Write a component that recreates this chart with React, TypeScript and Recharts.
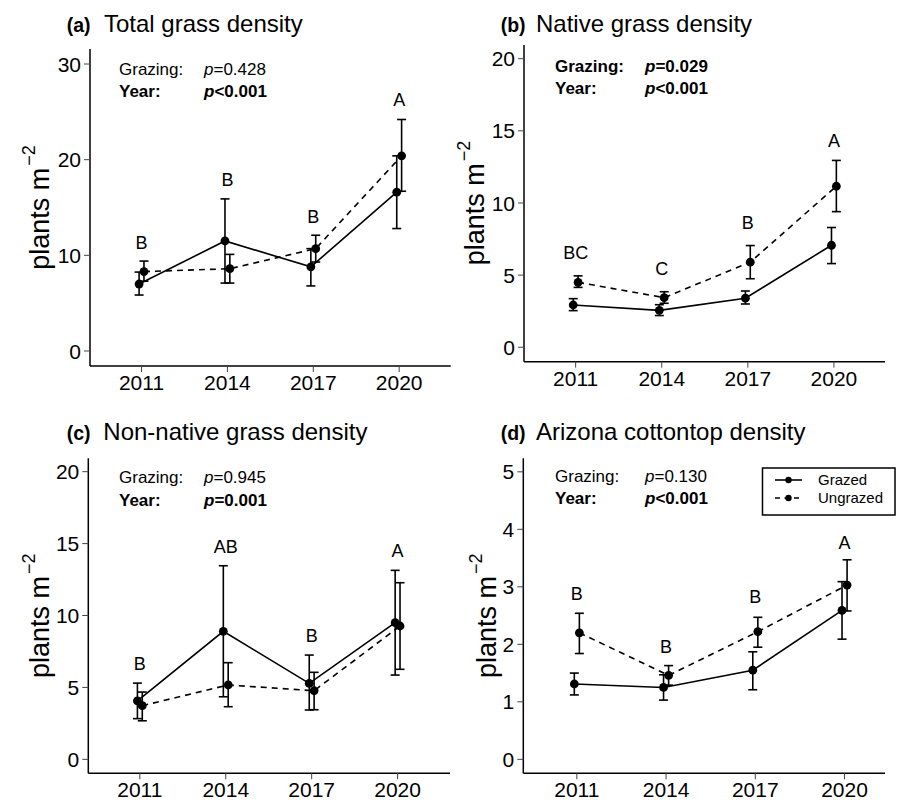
import React from 'react';
import { ComposedChart, Scatter, XAxis, YAxis, ErrorBar } from 'recharts';

const FONT = '"Liberation Sans", Arial, Helvetica, sans-serif';

// ---------- shared categories ----------
const years = [2011, 2014, 2017, 2020];
const xTicks = [2011, 2014, 2017, 2020];

// ---------- (a) Total grass density ----------
const totalGrazedMean = [7.0, 11.5, 8.8, 16.6];
const totalGrazedLow = [5.85, 7.1, 6.8, 12.8];
const totalGrazedHigh = [8.25, 15.9, 10.7, 20.4];
const totalUngrazedMean = [8.3, 8.6, 10.7, 20.4];
const totalUngrazedLow = [7.3, 7.1, 9.3, 16.7];
const totalUngrazedHigh = [9.4, 10.1, 12.1, 24.2];
const totalLetters = ['B', 'B', 'B', 'A'];
const totalLetterY = [10.65, 17.25, 13.4, 25.6];
const totalYTicks = [0, 10, 20, 30];

// ---------- (b) Native grass density ----------
const nativeGrazedMean = [2.93, 2.56, 3.4, 7.07];
const nativeGrazedLow = [2.54, 2.2, 3.0, 5.8];
const nativeGrazedHigh = [3.37, 2.95, 3.9, 8.3];
const nativeUngrazedMean = [4.5, 3.44, 5.9, 11.16];
const nativeUngrazedLow = [4.15, 3.05, 4.75, 9.4];
const nativeUngrazedHigh = [4.95, 3.85, 7.05, 12.95];
const nativeLetters = ['BC', 'C', 'B', 'A'];
const nativeLetterY = [6.1, 5.03, 8.18, 13.9];
const nativeYTicks = [0, 5, 10, 15, 20];

// ---------- (c) Non-native grass density ----------
const nonNativeGrazedMean = [4.07, 8.9, 5.28, 9.5];
const nonNativeGrazedLow = [2.83, 4.35, 3.43, 5.86];
const nonNativeGrazedHigh = [5.3, 13.46, 7.25, 13.14];
const nonNativeUngrazedMean = [3.73, 5.17, 4.77, 9.27];
const nonNativeUngrazedLow = [2.68, 3.66, 3.45, 6.26];
const nonNativeUngrazedHigh = [4.68, 6.72, 6.05, 12.28];
const nonNativeLetters = ['B', 'AB', 'B', 'A'];
const nonNativeLetterY = [6.2, 14.37, 8.16, 14.07];
const nonNativeYTicks = [0, 5, 10, 15, 20];

// ---------- (d) Arizona cottontop density ----------
const cottonGrazedMean = [1.31, 1.25, 1.55, 2.59];
const cottonGrazedLow = [1.12, 1.03, 1.21, 2.09];
const cottonGrazedHigh = [1.5, 1.47, 1.87, 3.09];
const cottonUngrazedMean = [2.2, 1.46, 2.22, 3.03];
const cottonUngrazedLow = [1.84, 1.29, 1.95, 2.58];
const cottonUngrazedHigh = [2.54, 1.63, 2.47, 3.47];
const cottonLetters = ['B', 'B', 'B', 'A'];
const cottonLetterY = [2.77, 1.85, 2.72, 3.65];
const cottonYTicks = [0, 1, 2, 3, 4, 5];

const DODGE = 0.085;

type Pt = { x: number; y: number; err: number[] };

function buildSeries(mean: number[], low: number[], high: number[], dodge: number): Pt[] {
  return years.map((yr, i) => ({
    x: yr + dodge,
    y: mean[i],
    err: [mean[i] - low[i], high[i] - mean[i]],
  }));
}

function buildLetters(letters: string[], ys: number[]) {
  return years.map((yr, i) => ({ x: yr, y: ys[i], t: letters[i] }));
}

const Dot = (props: any) => {
  const { cx, cy } = props;
  if (cx == null || cy == null) return null;
  return <circle cx={cx} cy={cy} r={4.4} fill="#000" />;
};

const LetterShape = (props: any) => {
  const { cx, cy, payload } = props;
  if (cx == null || cy == null) return null;
  return (
    <text x={cx} y={cy} textAnchor="middle" fontSize={18} fontFamily={FONT} fill="#000">
      {payload.t}
    </text>
  );
};

const XTick = (props: any) => {
  const { x, y, payload } = props;
  return (
    <text x={x} y={y} dy="0.71em" textAnchor="middle" fontSize={21} fontFamily={FONT} fill="#000">
      {payload.value}
    </text>
  );
};

const YTick = (props: any) => {
  const { x, y, payload } = props;
  return (
    <text x={x} y={y} dy="0.36em" textAnchor="end" fontSize={21} fontFamily={FONT} fill="#000">
      {payload.value}
    </text>
  );
};

type PanelProps = {
  left: number;
  top: number;
  width: number;
  height: number;
  margin: { top: number; right: number; bottom: number; left: number };
  yAxisWidth: number;
  xDomain: [number, number];
  yDomain: [number, number];
  yTicks: number[];
  grazed: Pt[];
  ungrazed: Pt[];
  letters: { x: number; y: number; t: string }[];
};

function Panel(p: PanelProps) {
  return (
    <div style={{ position: 'absolute', left: p.left, top: p.top, width: p.width, height: p.height }}>
      <ComposedChart width={p.width} height={p.height} margin={p.margin}>
        <XAxis
          type="number"
          dataKey="x"
          domain={p.xDomain}
          ticks={xTicks}
          interval={0}
          allowDataOverflow
          height={25}
          tickSize={6}
          tickMargin={3}
          axisLine={{ stroke: '#000', strokeWidth: 1.5 }}
          tickLine={{ stroke: '#444', strokeWidth: 1 }}
          tick={<XTick />}
        />
        <YAxis
          type="number"
          dataKey="y"
          domain={p.yDomain}
          ticks={p.yTicks}
          interval={0}
          allowDataOverflow
          width={p.yAxisWidth}
          tickSize={6}
          tickMargin={3}
          axisLine={{ stroke: '#000', strokeWidth: 1.5 }}
          tickLine={{ stroke: '#444', strokeWidth: 1 }}
          tick={<YTick />}
        />
        <Scatter
          name="Ungrazed"
          data={p.ungrazed}
          line={{ stroke: '#000', strokeWidth: 1.6, strokeDasharray: '6 5' }}
          lineType="joint"
          shape={Dot}
          fill="#000"
          isAnimationActive={false}
        >
          <ErrorBar dataKey="err" direction="y" width={4.5} stroke="#000" strokeWidth={1.6} isAnimationActive={false} />
        </Scatter>
        <Scatter
          name="Grazed"
          data={p.grazed}
          line={{ stroke: '#000', strokeWidth: 1.6 }}
          lineType="joint"
          shape={Dot}
          fill="#000"
          isAnimationActive={false}
        >
          <ErrorBar dataKey="err" direction="y" width={4.5} stroke="#000" strokeWidth={1.6} isAnimationActive={false} />
        </Scatter>
        <Scatter name="letters" data={p.letters} shape={LetterShape} isAnimationActive={false} />
      </ComposedChart>
    </div>
  );
}

const YLabel = ({ x, y }: { x: number; y: number }) => (
  <text
    x={x}
    y={y}
    transform={`rotate(-90 ${x} ${y})`}
    textAnchor="middle"
    fontSize={27}
    fontFamily={FONT}
    fill="#000"
  >
    plants m
    <tspan fontSize={18} dy={-14} dx={2}>
      −2
    </tspan>
  </text>
);

const Title = ({ x1, x2, y, tag, text }: { x1: number; x2: number; y: number; tag: string; text: string }) => (
  <g fontFamily={FONT} fill="#000">
    <text x={x1} y={y} fontSize={19.5} fontWeight="bold">
      {tag}
    </text>
    <text x={x2} y={y} fontSize={24}>
      {text}
    </text>
  </g>
);

const Stats = ({
  x1,
  x2,
  y1,
  y2,
  gP,
  yP,
  gBold,
  yBold,
}: {
  x1: number;
  x2: number;
  y1: number;
  y2: number;
  gP: string;
  yP: string;
  gBold: boolean;
  yBold: boolean;
}) => (
  <g fontFamily={FONT} fill="#000" fontSize={17}>
    <text x={x1} y={y1} fontWeight={gBold ? 'bold' : 'normal'}>
      Grazing:
    </text>
    <text x={x2} y={y1} fontWeight={gBold ? 'bold' : 'normal'}>
      <tspan fontStyle="italic">p</tspan>
      {gP}
    </text>
    <text x={x1} y={y2} fontWeight={yBold ? 'bold' : 'normal'}>
      Year:
    </text>
    <text x={x2} y={y2} fontWeight={yBold ? 'bold' : 'normal'}>
      <tspan fontStyle="italic">p</tspan>
      {yP}
    </text>
  </g>
);

export default function App() {
  return (
    <div style={{ position: 'absolute', left: 0, top: 0, width: 897, height: 802, background: '#fff', fontFamily: FONT }}>
      <Panel
        left={0}
        top={0}
        width={455}
        height={400}
        margin={{ top: 49, right: 4.3, bottom: 9, left: 0 }}
        yAxisWidth={90}
        xDomain={[2009.2, 2021.8]}
        yDomain={[-1.57, 31.57]}
        yTicks={totalYTicks}
        grazed={buildSeries(totalGrazedMean, totalGrazedLow, totalGrazedHigh, -DODGE)}
        ungrazed={buildSeries(totalUngrazedMean, totalUngrazedLow, totalUngrazedHigh, DODGE)}
        letters={buildLetters(totalLetters, totalLetterY)}
      />
      <Panel
        left={448}
        top={0}
        width={449}
        height={400}
        margin={{ top: 45, right: 12, bottom: 13.3, left: 0 }}
        yAxisWidth={76}
        xDomain={[2009.2, 2021.78]}
        yDomain={[-1.0, 20.95]}
        yTicks={nativeYTicks}
        grazed={buildSeries(nativeGrazedMean, nativeGrazedLow, nativeGrazedHigh, -DODGE)}
        ungrazed={buildSeries(nativeUngrazedMean, nativeUngrazedLow, nativeUngrazedHigh, DODGE)}
        letters={buildLetters(nativeLetters, nativeLetterY)}
      />
      <Panel
        left={0}
        top={400}
        width={455}
        height={402}
        margin={{ top: 58.3, right: 5, bottom: 3.7, left: 0 }}
        yAxisWidth={88.3}
        xDomain={[2009.2, 2021.83]}
        yDomain={[-0.97, 20.93]}
        yTicks={nonNativeYTicks}
        grazed={buildSeries(nonNativeGrazedMean, nonNativeGrazedLow, nonNativeGrazedHigh, -DODGE)}
        ungrazed={buildSeries(nonNativeUngrazedMean, nonNativeUngrazedLow, nonNativeUngrazedHigh, DODGE)}
        letters={buildLetters(nonNativeLetters, nonNativeLetterY)}
      />
      <Panel
        left={448}
        top={400}
        width={449}
        height={402}
        margin={{ top: 58.3, right: 12, bottom: 3.7, left: 0 }}
        yAxisWidth={75.3}
        xDomain={[2009.2, 2021.36]}
        yDomain={[-0.243, 5.235]}
        yTicks={cottonYTicks}
        grazed={buildSeries(cottonGrazedMean, cottonGrazedLow, cottonGrazedHigh, -DODGE)}
        ungrazed={buildSeries(cottonUngrazedMean, cottonUngrazedLow, cottonUngrazedHigh, DODGE)}
        letters={buildLetters(cottonLetters, cottonLetterY)}
      />
      <svg
        width={897}
        height={802}
        style={{ position: 'absolute', left: 0, top: 0, pointerEvents: 'none' }}
      >
        <Title x1={66.7} x2={104} y={32} tag="(a)" text="Total grass density" />
        <Title x1={500.7} x2={536} y={32} tag="(b)" text="Native grass density" />
        <Title x1={66.7} x2={103.3} y={440} tag="(c)" text="Non-native grass density" />
        <Title x1={500.7} x2={536} y={439.5} tag="(d)" text="Arizona cottontop density" />

        <Stats x1={119} x2={204} y1={75} y2={97} gP="=0.428" yP="<0.001" gBold={false} yBold={true} />
        <Stats x1={555} x2={645} y1={72} y2={94} gP="=0.029" yP="<0.001" gBold={true} yBold={true} />
        <Stats x1={119} x2={204} y1={483.3} y2={505.7} gP="=0.945" yP="=0.001" gBold={false} yBold={true} />
        <Stats x1={555} x2={645} y1={481.7} y2={504} gP="=0.130" yP="<0.001" gBold={false} yBold={true} />

        <YLabel x={49} y={207.5} />
        <YLabel x={484} y={203} />
        <YLabel x={49} y={615.8} />
        <YLabel x={496} y={615.8} />

        <g fontFamily={FONT} fill="#000">
          <rect x={762.5} y={468} width={132.5} height={47} fill="#fff" stroke="#000" strokeWidth={1.5} />
          <line x1={775} y1={480} x2={802} y2={480} stroke="#000" strokeWidth={1.6} />
          <circle cx={788.5} cy={480} r={3.2} fill="#000" />
          <text x={818} y={484.5} fontSize={15}>
            Grazed
          </text>
          <line x1={775} y1={498} x2={802} y2={498} stroke="#000" strokeWidth={1.6} strokeDasharray="5 4.5" />
          <circle cx={788.5} cy={498} r={3.2} fill="#000" />
          <text x={818} y={502.5} fontSize={15}>
            Ungrazed
          </text>
        </g>
      </svg>
    </div>
  );
}
